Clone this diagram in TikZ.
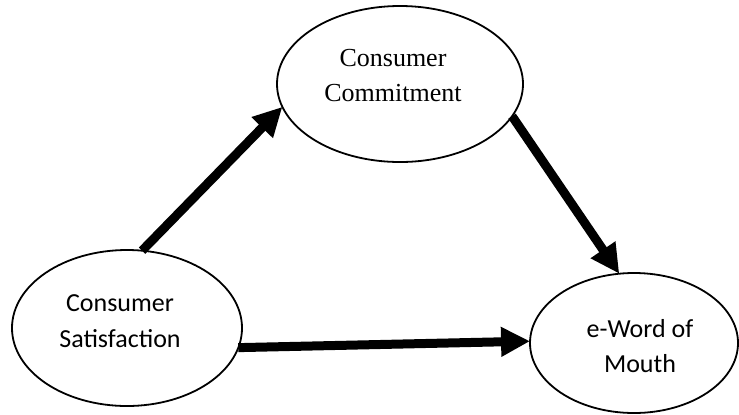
\documentclass[tikz,border=0pt]{standalone}
\usepackage{fontspec}
\setmainfont{Carlito}
\newfontfamily\timesfont{Liberation Serif}
\usetikzlibrary{arrows.meta, shapes.geometric}
\tikzset{every picture/.append style={x=0.5pt, y=-0.5pt}}
\tikzset{
    construct/.style={ellipse, draw, line width=0.9pt, inner sep=0pt, outer sep=0pt},
    caption/.style={align=center, inner sep=0pt, font=\fontsize{13}{17.8}\selectfont},
    effect/.style={-{Triangle[length=14.5pt, width=14pt]}, line width=4.5pt}
}

\begin{document}
\begin{tikzpicture}
	\useasboundingbox (0,0) rectangle (739,414);
	\node [construct, minimum width=123pt, minimum height=78pt] (cc) at (400,84) {};
	\node [construct, minimum width=115pt, minimum height=78pt] (cs) at (127,328) {};
	\node [construct, minimum width=104pt, minimum height=70pt] (ew) at (634,343) {};
	\node [caption, font=\timesfont\fontsize{13}{17.5}\selectfont] (cc text) at (393,76) {Consumer\\Commitment};
	\node [caption] (cs text) at (120,321) {Consumer\\Satisfaction};
	\node [caption] (ew text) at (640,346) {e-Word of\\Mouth};
	\draw [effect] (cs.79) -- (cc.191.5);
	\draw [effect] (cc.-16) -- (ew.102.7);
	\draw [effect] (cs.-10) -- (ew.179);
\end{tikzpicture}
\end{document}
